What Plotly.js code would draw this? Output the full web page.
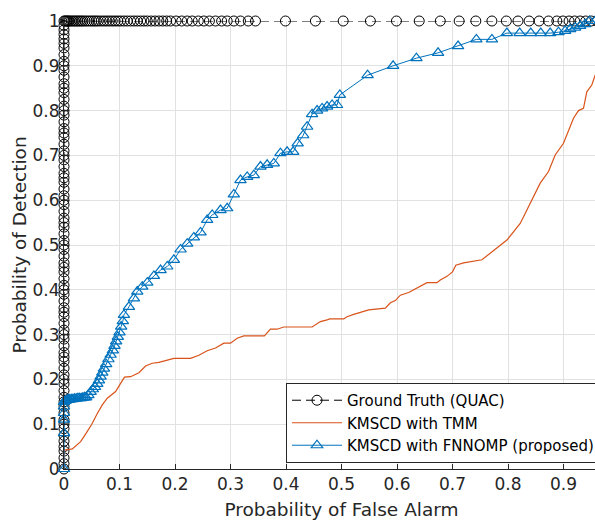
<!DOCTYPE html>
<html>
<head>
<meta charset="utf-8">
<script src="https://cdn.plot.ly/plotly-3.0.1.min.js"></script>
<style>
html, body { margin: 0; padding: 0; overflow: hidden; background: #fff; width: 595px; height: 523px; }
#chart { width: 625px; height: 523px; }
</style>
</head>
<body>
<div id="chart"></div>
<script>
// ---- Data ----
const seriesNames = ['Ground Truth (QUAC)', 'KMSCD with TMM', 'KMSCD with FNNOMP (proposed)'];

// Ground truth (QUAC): vertical column at Pfa = 0, then along Pd = 1
const gtX = [0,0,0,0,0,0,0,0,0,0,0,0,0,0,0,0,0,0,0,0,0,0,0,0,0,0,0,0,0,0,0,0,0,0,0,0,0,0,0,0,
  0,0,0,0,0,0,0,0,0,0,0,0,0,0,0,0,0,0,0,0,0,0,0,0,0,0,0,0,0,0,0,0,0,0,0,0,0,0,0,0,0,0,
  0.002,0.004,0.006,0.008,0.010,0.013,0.016,0.019,0.022,0.025,0.028,0.031,0.034,0.038,0.042,0.046,
  0.050,0.054,0.058,0.062,0.067,0.072,0.077,0.082,0.087,0.092,0.097,0.102,0.108,0.114,0.120,0.126,
  0.132,0.138,0.144,0.150,0.157,0.164,0.171,0.178,0.185,0.192,0.202,0.212,0.222,0.231,0.242,0.252,
  0.262,0.273,0.284,0.294,0.306,0.318,0.332,0.345,0.399,0.453,0.503,0.552,0.599,0.640,0.678,0.712,
  0.742,0.771,0.797,0.818,0.838,0.856,0.873,0.888,0.899,0.910,0.920,0.930,0.940,0.950,0.960,0.975,0.990,1.000];
const gtY = [0,0.012,0.025,0.04,0.05,0.062,0.075,0.09,0.1,0.11,0.125,0.14,0.15,0.16,0.175,0.19,0.2,0.21,0.225,0.24,
  0.25,0.26,0.275,0.29,0.3,0.31,0.325,0.34,0.35,0.36,0.375,0.39,0.4,0.41,0.425,0.44,0.45,0.46,0.475,0.49,
  0.5,0.51,0.525,0.54,0.55,0.56,0.575,0.59,0.6,0.61,0.625,0.64,0.65,0.66,0.675,0.69,0.7,0.71,0.725,0.74,
  0.75,0.76,0.775,0.79,0.8,0.81,0.825,0.84,0.85,0.86,0.875,0.89,0.9,0.91,0.925,0.94,0.95,0.96,0.97,0.98,0.99,1,
  1,1,1,1,1,1,1,1,1,1,1,1,1,1,1,1,
  1,1,1,1,1,1,1,1,1,1,1,1,1,1,1,1,
  1,1,1,1,1,1,1,1,1,1,1,1,1,1,1,1,
  1,1,1,1,1,1,1,1,1,1,1,1,1,1,1,1,
  1,1,1,1,1,1,1,1,1,1,1,1,1,1,1,1,1,1];

// KMSCD with TMM
const tmmX = [0,0,0.015,0.03,0.04,0.05,0.06,0.069,0.078,0.093,0.102,0.109,0.12,0.135,0.147,0.159,0.171,0.198,
  0.228,0.243,0.258,0.273,0.288,0.30,0.312,0.324,0.361,0.372,0.384,0.396,0.447,0.462,0.474,0.479,0.504,0.51,
  0.522,0.534,0.549,0.579,0.588,0.597,0.606,0.621,0.63,0.642,0.654,0.672,0.678,0.69,0.70,0.706,0.72,0.753,
  0.798,0.822,0.84,0.858,0.873,0.885,0.90,0.909,0.918,0.927,0.936,0.942,0.951,0.957,0.97,0.985,1.0];
const tmmY = [0,0.042,0.045,0.061,0.08,0.10,0.124,0.143,0.158,0.173,0.191,0.205,0.206,0.215,0.23,0.236,0.238,0.247,
  0.247,0.254,0.264,0.27,0.281,0.281,0.292,0.297,0.297,0.312,0.312,0.317,0.317,0.329,0.333,0.335,0.335,0.34,
  0.345,0.35,0.355,0.359,0.371,0.376,0.388,0.394,0.40,0.408,0.416,0.416,0.422,0.43,0.44,0.455,0.46,0.467,
  0.511,0.548,0.593,0.638,0.664,0.701,0.727,0.753,0.783,0.80,0.805,0.842,0.857,0.879,0.91,0.95,1.0];

// KMSCD with FNNOMP (proposed)
const fnX = [0,0,0,0,0,0,0.002,0.004,0.006,0.008,0.010,0.013,0.016,0.019,0.022,0.025,0.028,0.031,0.034,0.037,0.040,
  0.044,0.048,0.052,0.056,0.060,0.063,0.066,0.069,0.072,0.076,0.080,0.084,0.088,0.091,0.094,0.097,0.100,0.103,0.106,
  0.108,0.117,0.126,0.132,0.141,0.150,0.162,0.174,0.186,0.198,0.210,0.222,0.234,0.246,0.258,0.267,0.282,0.294,
  0.306,0.318,0.330,0.342,0.354,0.366,0.378,0.390,0.402,0.413,0.421,0.431,0.438,0.447,0.456,0.465,0.474,0.483,
  0.492,0.497,0.547,0.593,0.635,0.674,0.710,0.743,0.771,0.798,0.821,0.841,0.859,0.876,0.891,0.903,0.912,0.921,
  0.930,0.939,0.947,0.957,1.0];
const fnY = [0,0.08,0.11,0.125,0.139,0.15,0.152,0.153,0.154,0.155,0.155,0.156,0.156,0.157,0.157,0.158,0.158,0.158,0.159,0.16,0.16,
  0.165,0.172,0.178,0.183,0.19,0.198,0.206,0.215,0.224,0.234,0.245,0.255,0.265,0.275,0.285,0.295,0.305,0.318,0.33,
  0.344,0.362,0.381,0.396,0.407,0.416,0.431,0.444,0.452,0.467,0.49,0.503,0.517,0.528,0.556,0.567,0.578,0.582,
  0.613,0.645,0.652,0.656,0.675,0.679,0.682,0.705,0.708,0.708,0.727,0.745,0.764,0.792,0.80,0.805,0.809,0.8125,
  0.8125,0.835,0.879,0.90,0.917,0.929,0.944,0.959,0.959,0.973,0.973,0.973,0.973,0.973,0.975,0.978,0.982,0.985,
  0.989,0.993,1.0,1.0,1.0];

const xTicks = [0,0.1,0.2,0.3,0.4,0.5,0.6,0.7,0.8,0.9];
const xTickText = ['0','0.1','0.2','0.3','0.4','0.5','0.6','0.7','0.8','0.9'];
const yTicks = [0,0.1,0.2,0.3,0.4,0.5,0.6,0.7,0.8,0.9,1];
const yTickText = ['0','0.1','0.2','0.3','0.4','0.5','0.6','0.7','0.8','0.9','1'];

// ---- Chart ----
const axisColor = '#262626';
const gridColor = '#e1e1e1';
const FONT = 'DejaVu Sans, sans-serif';

const traces = [
  {
    x: gtX, y: gtY, name: seriesNames[0], type: 'scatter', mode: 'lines+markers', cliponaxis: false,
    line: {color: '#000000', width: 1, dash: '9px,5px'},
    marker: {symbol: 'circle-open', size: 10, color: '#000000', line: {width: 1, color: '#000000'}}
  },
  {
    x: tmmX, y: tmmY, name: seriesNames[1], type: 'scatter', mode: 'lines', cliponaxis: false,
    line: {color: '#D95319', width: 1.2}
  },
  {
    x: fnX, y: fnY, name: seriesNames[2], type: 'scatter', mode: 'lines+markers', cliponaxis: false,
    line: {color: '#0072BD', width: 1},
    marker: {symbol: 'triangle-up-open', size: 10, color: '#0072BD', line: {width: 1.2, color: '#0072BD'}}
  }
];

const layout = {
  width: 625, height: 523,
  margin: {l: 64, r: 6, t: 21, b: 54},
  paper_bgcolor: '#ffffff', plot_bgcolor: '#ffffff',
  font: {family: FONT, color: axisColor, size: 17},
  showlegend: true,
  xaxis: {
    range: [0, 1], tickvals: xTicks, ticktext: xTickText,
    showgrid: true, gridcolor: gridColor, gridwidth: 1, zeroline: false,
    showline: true, linecolor: axisColor, linewidth: 1,
    ticks: 'inside', ticklen: 5, tickcolor: axisColor,
    tickfont: {family: FONT, size: 17, color: axisColor},
    automargin: false,
    title: {text: 'Probability of False Alarm', font: {family: FONT, size: 18.5, color: axisColor}, standoff: 9}
  },
  yaxis: {
    range: [0, 1], tickvals: yTicks, ticktext: yTickText,
    showgrid: true, gridcolor: gridColor, gridwidth: 1, zeroline: false,
    showline: true, linecolor: axisColor, linewidth: 1,
    ticks: 'inside', ticklen: 5, tickcolor: axisColor,
    tickfont: {family: FONT, size: 17, color: axisColor},
    automargin: false,
    title: {text: 'Probability of Detection', font: {family: FONT, size: 18.5, color: axisColor}, standoff: 1}
  },
  legend: {
    x: 0.4, y: 0.192, xanchor: 'left', yanchor: 'top',
    bgcolor: '#ffffff', bordercolor: axisColor, borderwidth: 1,
    font: {family: FONT, size: 15, color: '#000000'},
    tracegroupgap: 0, itemwidth: 50
  }
};

Plotly.newPlot('chart', traces, layout, {displayModeBar: false, staticPlot: true});
</script>
</body>
</html>
